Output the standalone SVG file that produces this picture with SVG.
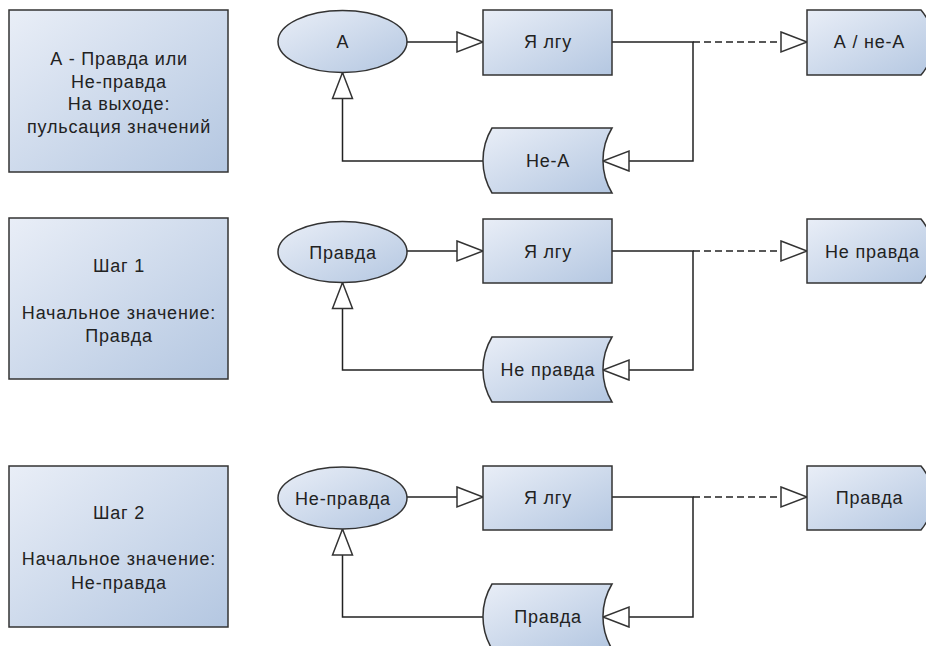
<svg xmlns="http://www.w3.org/2000/svg" width="926" height="646" viewBox="0 0 926 646">
<defs>
<linearGradient id="g" x1="0" y1="0" x2="1" y2="1">
<stop offset="0" stop-color="#e9eef7"/>
<stop offset="1" stop-color="#b4c7e1"/>
</linearGradient>
<marker id="tri" markerUnits="userSpaceOnUse" markerWidth="30" markerHeight="24" refX="26" refY="10" orient="auto" overflow="visible">
<path d="M0,0 L26,10 L0,20 Z" fill="#ffffff" stroke="#333333" stroke-width="1.5" stroke-dasharray="none"/>
</marker>
<style>
.s{fill:url(#g);stroke:#333333;stroke-width:1.5}
.t{font-family:"Liberation Sans",Arial,sans-serif;font-size:18px;letter-spacing:0.8px;fill:#222222;text-anchor:middle}
.c{fill:none;stroke:#222222;stroke-width:1.5}
.d{stroke-dasharray:7,4}
</style>
</defs>
<rect width="926" height="646" fill="#ffffff"/>

<g id="connectors">
<path class="c" d="M407,42 H483" marker-end="url(#tri)"/>
<path class="c" d="M612,42 H693 V161 H603" marker-end="url(#tri)"/>
<path class="c d" d="M693,42 H807" marker-end="url(#tri)"/>
<path class="c" d="M483,161 H342.5 V72.5" marker-end="url(#tri)"/>

<path class="c" d="M407,251 H483" marker-end="url(#tri)"/>
<path class="c" d="M612,251 H693 V370 H603" marker-end="url(#tri)"/>
<path class="c d" d="M693,251 H807" marker-end="url(#tri)"/>
<path class="c" d="M483,370 H342.5 V282.5" marker-end="url(#tri)"/>

<path class="c" d="M407,497 H483" marker-end="url(#tri)"/>
<path class="c" d="M612,497 H693 V617 H603" marker-end="url(#tri)"/>
<path class="c d" d="M693,497 H807" marker-end="url(#tri)"/>
<path class="c" d="M483,617 H342.5 V529" marker-end="url(#tri)"/>
</g>

<g id="info1">
<rect class="s" x="9" y="10" width="219" height="162"/>
<text class="t" x="119" y="65">А - Правда или</text>
<text class="t" x="119" y="88">Не-правда</text>
<text class="t" x="119" y="110">На выходе:</text>
<text class="t" x="119" y="133">пульсация значений</text>
</g>
<g id="a1">
<ellipse class="s" cx="342.5" cy="41.5" rx="64.5" ry="31"/>
<text class="t" x="343" y="48">А</text>
</g>
<g id="lie1">
<rect class="s" x="483" y="10" width="129" height="65"/>
<text class="t" x="548" y="48">Я лгу</text>
</g>
<g id="out1">
<path class="s" d="M807,10 H921 A50,50 0 0 1 921,75 H807 Z"/>
<text class="t" x="869.5" y="48">А / не-А</text>
</g>
<g id="neg1">
<path class="s" d="M492,128 H612 A63,63 0 0 0 612,193 H492 A63,63 0 0 1 492,128 Z"/>
<text class="t" x="548" y="167">Не-А</text>
</g>

<g id="info2">
<rect class="s" x="9" y="218" width="219" height="161"/>
<text class="t" x="119" y="272">Шаг 1</text>
<text class="t" x="119" y="318.5">Начальное значение:</text>
<text class="t" x="119" y="342">Правда</text>
</g>
<g id="a2">
<ellipse class="s" cx="342.5" cy="252" rx="64.5" ry="30.5"/>
<text class="t" x="343" y="258.5">Правда</text>
</g>
<g id="lie2">
<rect class="s" x="483" y="219" width="129" height="64"/>
<text class="t" x="548" y="257.5">Я лгу</text>
</g>
<g id="out2">
<path class="s" d="M807,219 H921 A50,50 0 0 1 921,283 H807 Z"/>
<text class="t" x="872.5" y="257.5">Не правда</text>
</g>
<g id="neg2">
<path class="s" d="M492,337 H612 A63,63 0 0 0 612,402 H492 A63,63 0 0 1 492,337 Z"/>
<text class="t" x="548" y="376">Не правда</text>
</g>

<g id="info3">
<rect class="s" x="9" y="466" width="219" height="161"/>
<text class="t" x="119" y="519">Шаг 2</text>
<text class="t" x="119" y="565">Начальное значение:</text>
<text class="t" x="119" y="589">Не-правда</text>
</g>
<g id="a3">
<ellipse class="s" cx="342.5" cy="498" rx="64.5" ry="31"/>
<text class="t" x="343" y="504.5">Не-правда</text>
</g>
<g id="lie3">
<rect class="s" x="483" y="466" width="129" height="64"/>
<text class="t" x="548" y="504">Я лгу</text>
</g>
<g id="out3">
<path class="s" d="M807,466 H921 A50,50 0 0 1 921,530 H807 Z"/>
<text class="t" x="869.5" y="504">Правда</text>
</g>
<g id="neg3">
<path class="s" d="M492,584 H612 A63,63 0 0 0 612,649 H492 A63,63 0 0 1 492,584 Z"/>
<text class="t" x="548" y="623">Правда</text>
</g>
</svg>
